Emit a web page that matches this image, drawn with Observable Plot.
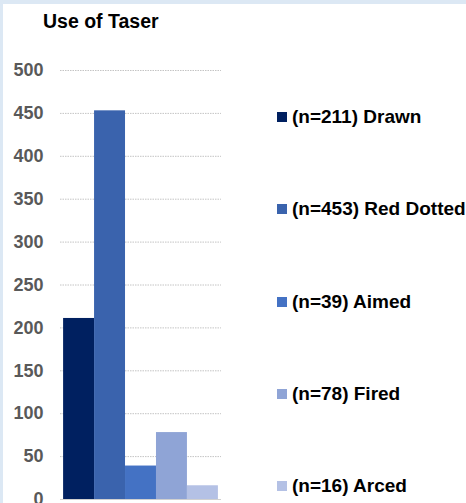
<!DOCTYPE html>
<html>
<head>
<meta charset="utf-8">
<script src="https://cdn.jsdelivr.net/npm/d3@7"></script>
<script src="https://cdn.jsdelivr.net/npm/@observablehq/plot@0.6"></script>
<style>
  html, body { margin: 0; padding: 0; background: #dce8f4; }
  #wrap { position: absolute; left: 3px; top: 4px; width: 463px; height: 499px; background: #fff; overflow: hidden;
          font-family: "Liberation Sans", Arial, sans-serif; }
  #chart { position: absolute; left: -3px; top: -4px; }
  #title { position: absolute; left: 40px; top: 6px; font-size: 19.5px; font-weight: bold; color: #000; line-height: 22px; }
  .leg { position: absolute; left: 274px; font-size: 19px; font-weight: bold; color: #000; white-space: nowrap;
         display: flex; align-items: center; height: 22px; line-height: 22px; }
  .sw { width: 10px; height: 10px; margin-right: 5px; display: inline-block; }
</style>
</head>
<body>
<div id="wrap">
  <div id="chart"></div>
  <div id="title">Use of Taser</div>
</div>
<script>
const categories = ["Drawn", "Red Dotted", "Aimed", "Fired", "Arced"];
const values = [211, 453, 39, 78, 16];
const colors = ["#002060", "#3a63ad", "#4472c4", "#8fa4d6", "#b4c1e5"];
const yTicks = [0, 50, 100, 150, 200, 250, 300, 350, 400, 450, 500];
const legendLabels = categories.map((c, i) => `(n=${values[i]}) ${c}`);

const data = categories.map((c, i) => ({category: c, value: values[i], color: colors[i]}));

const chart = Plot.plot({
  width: 466,
  height: 503,
  marginLeft: 60,
  marginRight: 245,
  marginTop: 70,
  marginBottom: 4,
  style: {fontFamily: "'Liberation Sans', Arial, sans-serif", fontSize: "18px", fontWeight: "bold", background: "transparent", overflow: "visible"},
  x: {domain: categories, paddingInner: 0, paddingOuter: 0.1, round: false, axis: null},
  y: {domain: [0, 500], ticks: yTicks},
  marks: [
    Plot.ruleY(yTicks.filter(d => d > 0), {stroke: "#c4c4c4", strokeDasharray: "1.5,1", strokeWidth: 1}),
    Plot.barY(data, {x: "category", y: "value", fill: "color"}),
    Plot.ruleY([0], {stroke: "#d0d0d0", strokeWidth: 1}),
    Plot.axisY({ticks: yTicks, tickSize: 0, tickPadding: 17, color: "#595959", label: null, fontWeight: "bold", fontSize: 18})
  ]
});
document.getElementById("chart").appendChild(chart);

const wrap = document.getElementById("wrap");
legendLabels.forEach((lab, i) => {
  const div = document.createElement("div");
  div.className = "leg";
  div.style.top = (117 - 4 - 11 + i * 92.25) + "px";
  const sw = document.createElement("span");
  sw.className = "sw";
  sw.style.background = colors[i];
  div.appendChild(sw);
  div.appendChild(document.createTextNode(lab));
  wrap.appendChild(div);
});
</script>
</body>
</html>
